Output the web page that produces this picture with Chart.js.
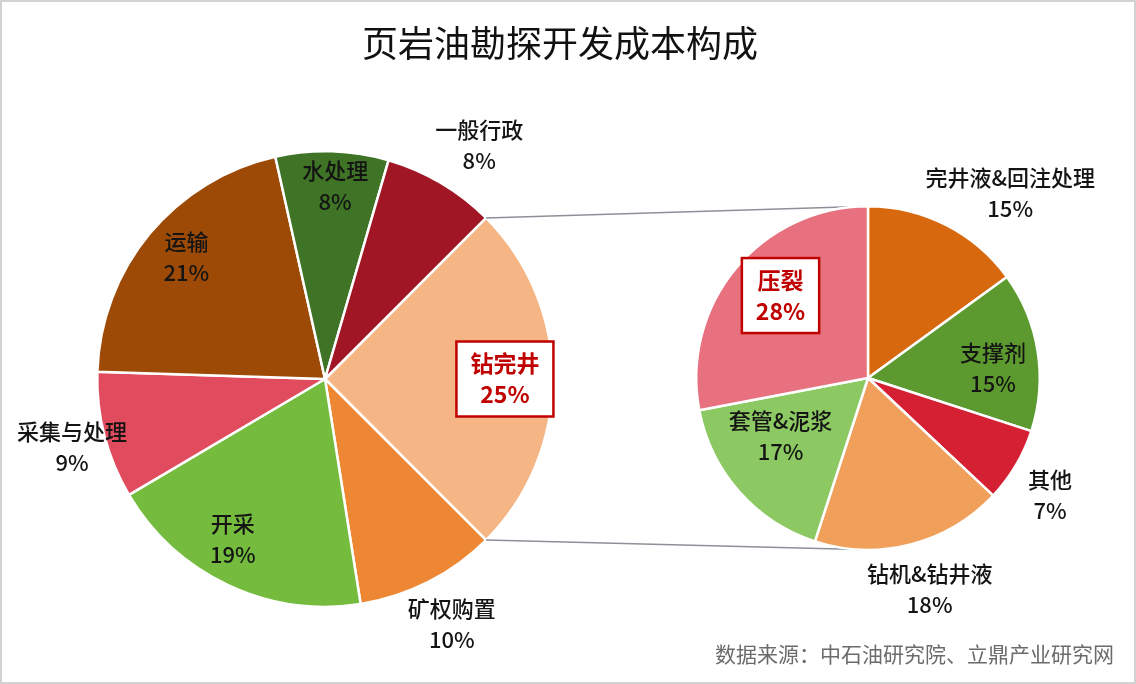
<!DOCTYPE html>
<html>
<head>
<meta charset="utf-8">
<script src="https://cdn.jsdelivr.net/npm/chart.js@4/dist/chart.umd.min.js"></script>
<style>
  body { margin: 0; background: #fff; }
  #wrap { position: relative; width: 1136px; height: 684px; overflow: hidden; font-family: "Noto Sans CJK SC", "Noto Sans", sans-serif; }
  #wrap canvas { position: absolute; left: 0; top: 0; }
  .title { position: absolute; left: -8px; width: 1136px; top: 17px; text-align: center; font-size: 36px; color: #111; line-height: 48px; }
  .source { position: absolute; right: 22px; top: 638px; font-size: 21px; color: #6b6b6b; line-height: 30px; }
  .frame { position: absolute; left: 0; top: 0; width: 1136px; height: 684px; box-sizing: border-box; border: 2px solid #d2d2d2; pointer-events: none; }
</style>
</head>
<body>
<div id="wrap">
  <canvas id="mainPie" width="1136" height="684"></canvas>
  <canvas id="subPie" width="1136" height="684"></canvas>
  <div class="title">页岩油勘探开发成本构成</div>
  <div class="source">数据来源：中石油研究院、立鼎产业研究网</div>
  <div class="frame"></div>
</div>
<script>
// 主饼图：页岩油勘探开发成本（%）
var mainCategories = ["钻完井", "矿权购置", "开采", "采集与处理", "运输", "水处理", "一般行政"];
var mainValues = [25, 10, 19, 9, 21, 8, 8];
var mainColors = ["#F5B584", "#EE8733", "#74BB3E", "#E14B5E", "#9C4A06", "#3F7326", "#A01624"];

// 子饼图：钻完井成本拆分（%）
var subCategories = ["完井液&回注处理", "支撑剂", "其他", "钻机&钻井液", "套管&泥浆", "压裂"];
var subValues = [15, 15, 7, 18, 17, 28];
var subColors = ["#D8680E", "#5C9A30", "#D42032", "#F0A05A", "#8CC962", "#E8717F"];

// 标签位置（相对半径、角度偏移，度）
var mainLabelDist = [0.79, 1.21, 0.81, 1.15, 0.81, 0.85, 1.23];
var mainLabelShift = [0, -0.4, 4.8, -0.6, 1.7, 1.2, 2.8];
var subLabelDist = [1.36, 0.73, 1.26, 1.28, 0.61, 0.70];
var subLabelShift = [10.5, 4.4, 2.1, -1.9, 8, 3.7];
var mainBoxed = ["钻完井"];
var subBoxed = ["压裂"];

var labelFont = '500 22px "Noto Sans CJK SC", "Noto Sans", sans-serif';
var boxFont = 'bold 23px "Noto Sans CJK SC", "Noto Sans", sans-serif';
var lineH = 31;

function drawLabels(chart, cats, vals, dist, shift, boxed) {
    var ctx = chart.ctx;
    var meta = chart.getDatasetMeta(0);
    ctx.save();
    ctx.textAlign = 'center';
    ctx.textBaseline = 'middle';
    meta.data.forEach(function (arc, i) {
        var p = arc.getProps(['x', 'y', 'startAngle', 'endAngle', 'outerRadius'], true);
        var a = (p.startAngle + p.endAngle) / 2 + shift[i] * Math.PI / 180;
        var r = p.outerRadius * dist[i];
        var cx = p.x + Math.cos(a) * r;
        var cy = p.y + Math.sin(a) * r;
        var lines = [cats[i], vals[i] + '%'];
        var isBox = boxed.indexOf(cats[i]) >= 0;
        ctx.font = isBox ? boxFont : labelFont;
        if (isBox) {
            var w = Math.max(ctx.measureText(lines[0]).width, ctx.measureText(lines[1]).width) + 28;
            var h = lineH * 2 + 13;
            ctx.fillStyle = '#fff';
            ctx.fillRect(cx - w / 2, cy - h / 2, w, h);
            ctx.strokeStyle = '#C00000';
            ctx.lineWidth = 2.5;
            ctx.strokeRect(cx - w / 2, cy - h / 2, w, h);
            ctx.fillStyle = '#C00000';
        } else {
            ctx.fillStyle = '#141414';
        }
        ctx.fillText(lines[0], cx, cy - lineH / 2);
        ctx.fillText(lines[1], cx, cy + lineH / 2);
    });
    ctx.restore();
}

var mainLabelsPlugin = {
    id: 'mainLabels',
    afterDatasetsDraw: function (chart) {
        drawLabels(chart, mainCategories, mainValues, mainLabelDist, mainLabelShift, mainBoxed);
    }
};

var connectorPlugin = {
    id: 'connectors',
    beforeDatasetsDraw: function (chart) {
        var mainChart = Chart.getChart('mainPie');
        if (!mainChart) return;
        var src = mainChart.getDatasetMeta(0).data[0].getProps(['x', 'y', 'startAngle', 'endAngle', 'outerRadius'], true);
        var dst = chart.getDatasetMeta(0).data[0].getProps(['x', 'y', 'outerRadius'], true);
        var ctx = chart.ctx;
        ctx.save();
        ctx.strokeStyle = '#8c9099';
        ctx.lineWidth = 1.5;
        ctx.beginPath();
        ctx.moveTo(src.x + Math.cos(src.startAngle) * src.outerRadius, src.y + Math.sin(src.startAngle) * src.outerRadius);
        ctx.lineTo(dst.x, dst.y - dst.outerRadius);
        ctx.moveTo(src.x + Math.cos(src.endAngle) * src.outerRadius, src.y + Math.sin(src.endAngle) * src.outerRadius);
        ctx.lineTo(dst.x, dst.y + dst.outerRadius);
        ctx.stroke();
        ctx.restore();
    },
    afterDatasetsDraw: function (chart) {
        drawLabels(chart, subCategories, subValues, subLabelDist, subLabelShift, subBoxed);
    }
};

var mainChart = new Chart(document.getElementById('mainPie'), {
    type: 'pie',
    data: {
        labels: mainCategories,
        datasets: [{
            data: mainValues,
            backgroundColor: mainColors,
            borderColor: '#ffffff',
            borderWidth: 2.5
        }]
    },
    options: {
        responsive: false,
        animation: false,
        rotation: 45,
        layout: { padding: { left: 96, right: 582, top: 150, bottom: 76 } },
        plugins: { legend: { display: false }, tooltip: { enabled: false } }
    },
    plugins: [mainLabelsPlugin]
});

var subChart = new Chart(document.getElementById('subPie'), {
    type: 'pie',
    data: {
        labels: subCategories,
        datasets: [{
            data: subValues,
            backgroundColor: subColors,
            borderColor: '#ffffff',
            borderWidth: 2.5
        }]
    },
    options: {
        responsive: false,
        animation: false,
        rotation: 0,
        layout: { padding: { left: 695, right: 95, top: 205, bottom: 133 } },
        plugins: { legend: { display: false }, tooltip: { enabled: false } }
    },
    plugins: [connectorPlugin]
});
</script>
</body>
</html>
